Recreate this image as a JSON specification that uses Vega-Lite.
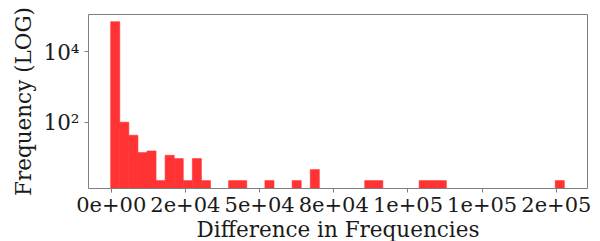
{
  "$schema": "https://vega.github.io/schema/vega-lite/v6.json",
  "autosize": {"type": "none"},
  "padding": {"left": 88, "top": 14, "right": 13, "bottom": 53},
  "width": 499,
  "height": 174,
  "background": "white",
  "config": {
    "view": {"stroke": "#7f7f7f", "strokeWidth": 1},
    "font": "DejaVu Serif"
  },
  "data": {
    "values": [
      {"bin_start": 0, "bin_end": 3057, "count": 67500},
      {"bin_start": 3057, "bin_end": 6114, "count": 98},
      {"bin_start": 6114, "bin_end": 9171, "count": 42},
      {"bin_start": 9171, "bin_end": 12228, "count": 13.6},
      {"bin_start": 12228, "bin_end": 15285, "count": 15.1},
      {"bin_start": 15285, "bin_end": 18342, "count": 2.2},
      {"bin_start": 18342, "bin_end": 21399, "count": 11.4},
      {"bin_start": 21399, "bin_end": 24456, "count": 9.2},
      {"bin_start": 24456, "bin_end": 27513, "count": 2.2},
      {"bin_start": 27513, "bin_end": 30570, "count": 9.2},
      {"bin_start": 30570, "bin_end": 33627, "count": 2.2},
      {"bin_start": 39741, "bin_end": 42798, "count": 2.2},
      {"bin_start": 42798, "bin_end": 45855, "count": 2.2},
      {"bin_start": 51969, "bin_end": 55026, "count": 2.2},
      {"bin_start": 61140, "bin_end": 64197, "count": 2.2},
      {"bin_start": 67254, "bin_end": 70311, "count": 4.5},
      {"bin_start": 85596, "bin_end": 88653, "count": 2.2},
      {"bin_start": 88653, "bin_end": 91710, "count": 2.2},
      {"bin_start": 103938, "bin_end": 106995, "count": 2.2},
      {"bin_start": 106995, "bin_end": 110052, "count": 2.2},
      {"bin_start": 110052, "bin_end": 113109, "count": 2.2},
      {"bin_start": 149793, "bin_end": 152850, "count": 2.2}
    ]
  },
  "mark": {"type": "bar", "color": "#ff3333", "stroke": "#ff3333", "strokeWidth": 0.6, "clip": true, "opacity": 1},
  "encoding": {
    "x": {
      "field": "bin_start",
      "type": "quantitative",
      "scale": {"domain": [-7643, 160493], "nice": false, "zero": false},
      "axis": {
        "title": "Difference in Frequencies",
        "values": [0, 25000, 50000, 75000, 100000, 125000, 150000],
        "labelExpr": "datum.value == 0 ? '0e+00' : datum.value == 25000 ? '2e+04' : datum.value == 50000 ? '5e+04' : datum.value == 75000 ? '8e+04' : datum.value == 100000 ? '1e+05' : datum.value == 125000 ? '1e+05' : '2e+05'",
        "domain": false,
        "grid": false,
        "tickColor": "#7f7f7f",
        "tickSize": 4,
        "labelFont": "DejaVu Serif",
        "labelFontSize": 21,
        "labelColor": "#1a1a1a",
        "labelPadding": 2,
        "labelFlush": false,
        "labelOverlap": false,
        "titleFont": "DejaVu Serif",
        "titleFontSize": 21.5,
        "titleFontWeight": "normal",
        "titleColor": "#1a1a1a",
        "titlePadding": 4
      }
    },
    "x2": {"field": "bin_end"},
    "y": {
      "field": "count",
      "type": "quantitative",
      "scale": {"type": "log", "domain": [1.36, 111400], "nice": false},
      "axis": {
        "title": "Frequency (LOG)",
        "values": [100, 10000],
        "labelExpr": "datum.value == 100 ? '10²' : '10⁴'",
        "domain": false,
        "grid": false,
        "tickColor": "#7f7f7f",
        "tickSize": 4,
        "labelFont": "DejaVu Serif",
        "labelFontSize": 21.5,
        "labelColor": "#1a1a1a",
        "labelPadding": 5,
        "labelOffset": 2,
        "titleFont": "DejaVu Serif",
        "titleFontSize": 21.5,
        "titleFontWeight": "normal",
        "titleColor": "#1a1a1a",
        "titlePadding": 8
      }
    },
    "y2": {"datum": 1.36}
  }
}
